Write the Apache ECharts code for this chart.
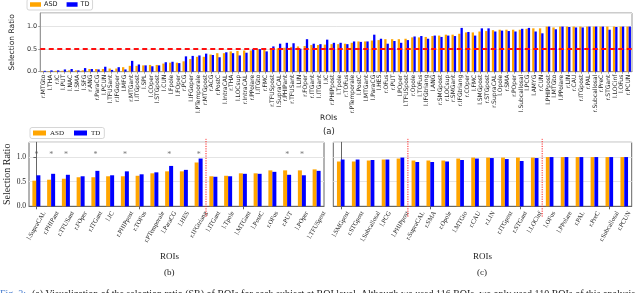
<!DOCTYPE html>
<html><head><meta charset="utf-8">
<script src="https://cdn.jsdelivr.net/npm/echarts@6/dist/echarts.min.js"></script>
<style>html,body{margin:0;padding:0;background:#fff}#c{width:640px;height:293px}</style>
</head><body><div id="c"></div>
<script>
// ---------- DATA ----------
const roisA = ["r.MTGto","l.THA","r.IC","l.PUT","l.NAC","l.SMA","l.SFG","r.ANG","r.ParaCG","l.PCUN",
"l.TFUSant","r.IFGoper","l.MFG","r.MTGant","l.ITGpost","l.SPL","l.COper","l.STGpost","l.CUN","l.Fpole",
"l.FOper","r.PCG","l.IFGoper","l.PTemporale","r.MTGpost","r.ACG","r.PostC","l.IntraCAL","r.THA","l.LOCsup",
"r.IntraCAL","r.PPolare","l.ITGto","r.FMC","r.TFUSpost","l.SupraCAL","r.PHIPant","r.TFUSant","l.LIN","r.FOper",
"r.ITGant","l.ITGant","l.IC","r.PHIPpost","l.Tpole","r.TOFus","r.PTemporale","l.PostC","l.MTGant","l.ParaCG",
"l.HES","r.OFus","r.PUT","l.POper","l.TFUSpost","r.Opole","l.TOFus","l.IFGtriang","l.ANG","r.SMGpost",
"r.LOCsup","r.SMGant","r.IFGtriang","r.COper","l.FMC","l.SMGpost","r.STGpost","r.SupraCAL","l.Opole","r.SMA",
"r.POper","l.Subcallosal","l.PCG","l.AMYG","r.CUN","l.PHIPpost","l.MTGto","l.PPolare","r.LIN","r.CAU",
"r.ITGpost","r.PAL","r.Subcallosal","r.PreC","r.STGant","l.LOCinf","l.OFus","r.PCUN"];
const asdA = [0.01,0.01,0.02,0.02,0.03,0.03,0.03,0.06,0.06,0.06,
0.07,0.07,0.10,0.13,0.13,0.14,0.15,0.15,0.18,0.20,
0.20,0.23,0.28,0.33,0.33,0.38,0.41,0.41,0.45,0.46,
0.47,0.47,0.50,0.51,0.51,0.52,0.53,0.55,0.56,0.57,
0.59,0.59,0.60,0.61,0.61,0.62,0.64,0.67,0.67,0.69,
0.70,0.72,0.72,0.72,0.73,0.76,0.76,0.77,0.79,0.80,
0.82,0.82,0.84,0.87,0.87,0.89,0.90,0.92,0.93,0.93,
0.93,0.93,0.95,0.96,0.96,1.00,0.98,1.00,1.00,1.00,
1.00,1.00,1.00,1.00,1.00,1.00,1.00,1.00];
const tdA = [0.02,0.03,0.03,0.05,0.06,0.03,0.08,0.06,0.05,0.11,
0.04,0.10,0.05,0.24,0.16,0.14,0.12,0.14,0.21,0.22,
0.19,0.34,0.35,0.36,0.40,0.37,0.32,0.43,0.41,0.36,
0.42,0.50,0.50,0.45,0.56,0.62,0.64,0.63,0.51,0.72,
0.62,0.61,0.71,0.64,0.64,0.61,0.67,0.66,0.67,0.82,
0.73,0.62,0.68,0.64,0.70,0.78,0.79,0.73,0.80,0.77,
0.80,0.79,0.97,0.88,0.80,0.96,0.96,0.89,0.91,0.90,
0.89,0.95,0.97,0.89,0.85,1.00,0.94,1.00,0.99,0.98,
0.98,1.00,1.00,1.00,0.93,0.99,1.00,1.00];
const thresholdA = 0.5;

const roisB = ["l.SupraCAL","r.PHIPant","r.TFUSant","r.FOper","r.ITGant","l.IC","r.PHIPpost","r.TOFus","r.PTemporale","l.ParaCG",
"l.HES","r.IFGtriang","l.ITGant","l.Tpole","l.MTGant","l.PostC","r.OFus","r.PUT","l.POper","l.TFUSpost"];
const asdB = [0.52,0.54,0.56,0.59,0.59,0.61,0.61,0.62,0.67,0.71,0.71,0.89,0.61,0.62,0.67,0.67,0.73,0.73,0.73,0.75];
const tdB  = [0.63,0.66,0.64,0.61,0.72,0.63,0.71,0.65,0.69,0.82,0.74,0.97,0.60,0.61,0.66,0.66,0.70,0.64,0.63,0.72];
const sigB = [0,1,2,4,6,9,11,17,18];   // categories marked with *
const sigLevel = 1.05;
const dividersB = [11.5];

const roisC = ["l.SMGpost","r.STGpost","l.Subcallosal","l.PCG","l.PHIPpost","r.SupraCAL","r.SMA","r.Opole","l.MTGto","r.CAU",
"r.LIN","r.ITGpost","r.STGant","l.LOCinf","l.OFus","l.PPolare","r.PAL","r.PreC","r.Subcallosal","r.PCUN"];
const asdC = [0.91,0.91,0.93,0.95,0.97,0.93,0.93,0.93,0.97,0.99,0.99,0.99,0.99,0.99,1.00,1.00,1.00,1.00,1.00,1.00];
const tdC  = [0.95,0.95,0.94,0.95,0.99,0.90,0.90,0.91,0.94,0.97,0.98,0.96,0.92,0.98,1.00,1.00,1.00,1.00,1.00,1.00];
const dividersC = [4.5, 13.5];

const yTicks = {min:0, max:1.3, interval:0.5};
const dividerSpan = [-0.21, 1.37];

// ---------- CHART ----------
const ORANGE = '#FFA500', BLUE = '#0000FF';
const SANS = 'DejaVu Sans', SERIF = 'Liberation Serif';
const chart = echarts.init(document.getElementById('c'), null, {renderer:'canvas'});

const ctx = document.createElement('canvas').getContext('2d');
function textW(t, font){ ctx.font = font; return ctx.measureText(t).width; }

function rotLabelSeries(xi, yi, names){
  const fs = 6.5, font = fs + 'px "' + SERIF + '"', ang = Math.PI/3, pad = 3;
  return {
    type:'custom', xAxisIndex:xi, yAxisIndex:yi, silent:true, clip:false, z:5,
    data: names.map((n,i)=>[i,0]),
    renderItem(params, api){
      const i = api.value(0);
      const p = api.coord([i, 0]);
      const L = textW(names[i], font);
      return {type:'text', x: p[0] + (L/2)*Math.cos(ang), y: p[1] + pad + (fs/2)*Math.cos(ang) + 1,
        rotation: ang,
        style:{text:names[i], font, fill:'#222', align:'right', verticalAlign:'middle'}};
    }
  };
}
function dividerSeries(xi, yi, x){
  return {type:'line', xAxisIndex:xi, yAxisIndex:yi, silent:true, clip:false, symbol:'none', z:6,
    data:[[x, dividerSpan[0]],[x, dividerSpan[1]]],
    lineStyle:{color:'#ff2020', width:1, type:[1.2,1.2]}};
}

const catAxisBase = (gi, data) => ({type:'category', gridIndex:gi, data,
  axisLine:{lineStyle:{color:'#666'}}, axisTick:{show:true, alignWithLabel:true, length:3, lineStyle:{color:'#666'}}});

const option = {
  animation:false,
  backgroundColor:'#fff',
  legend:[
    {data:['ASD','TD'], left:27, top:-1, orient:'horizontal', itemWidth:11, itemHeight:4.5, itemGap:9,
      padding:[2,3,2,3], borderColor:'#ccc', borderWidth:0.8, borderRadius:2, icon:'rect',
      textStyle:{fontFamily:SANS, fontSize:6.5, color:'#222', padding:[0,0,0,-2]}},
    {data:['ASD','TD'], left:30, top:127.5, orient:'horizontal', itemWidth:13, itemHeight:5, itemGap:10,
      padding:[2,4,2,3], borderColor:'#ccc', borderWidth:0.8, borderRadius:2, icon:'rect',
      textStyle:{fontFamily:SERIF, fontSize:7, color:'#222', padding:[0,0,0,-1]}}
  ],
  grid:[
    {left:27, top:13, width:605, height:58.7, show:true, borderColor:'#999', borderWidth:1, backgroundColor:'transparent'},
    {left:29, top:142.3, width:295, height:64, show:true, borderColor:'#666', borderWidth:1, backgroundColor:'transparent'},
    {left:333.3, top:142.3, width:298.4, height:64, show:true, borderColor:'#666', borderWidth:1, backgroundColor:'transparent'}
  ],
  xAxis:[
    Object.assign(catAxisBase(0, roisA), {axisTick:{show:true, alignWithLabel:true, length:2, lineStyle:{color:'#999'}},
      axisLine:{lineStyle:{color:'#999'}},
      axisLabel:{interval:0, rotate:90, fontSize:6, margin:3, fontFamily:SANS, color:'#222'}}),
    Object.assign(catAxisBase(1, roisB), {axisLabel:{show:false}}),
    Object.assign(catAxisBase(2, roisC), {axisLabel:{show:false}}),
    {type:'value', gridIndex:1, min:-0.5, max:roisB.length-0.5, show:false},
    {type:'value', gridIndex:2, min:-0.5, max:roisC.length-0.5, show:false}
  ],
  yAxis:[
    {type:'value', gridIndex:0, min:yTicks.min, max:yTicks.max, interval:yTicks.interval,
      name:'Selection Ratio', nameLocation:'middle', nameGap:17,
      nameTextStyle:{fontFamily:SANS, fontSize:7.5, color:'#222'},
      axisLine:{show:true, lineStyle:{color:'#999'}}, axisTick:{show:true, length:2, lineStyle:{color:'#999'}},
      axisLabel:{fontFamily:SANS, fontSize:6.5, color:'#333', margin:3, showMaxLabel:false,
        formatter:v=>v.toFixed(1)},
      splitLine:{show:true, lineStyle:{color:'#e4e4e4', width:1}}},
    {type:'value', gridIndex:1, min:yTicks.min, max:yTicks.max, interval:yTicks.interval,
      name:'Selection Ratio', nameLocation:'middle', nameGap:16,
      nameTextStyle:{fontFamily:SERIF, fontSize:10, color:'#222'},
      axisLine:{show:true, lineStyle:{color:'#666'}}, axisTick:{show:true, length:3, lineStyle:{color:'#666'}},
      axisLabel:{fontFamily:SERIF, fontSize:7.5, color:'#222', margin:3, showMaxLabel:false,
        formatter:v=>v.toFixed(1)},
      splitLine:{show:true, lineStyle:{color:'#e4e4e4', width:1}}},
    {type:'value', gridIndex:2, min:yTicks.min, max:yTicks.max, interval:yTicks.interval,
      axisLine:{show:true, lineStyle:{color:'#666'}}, axisTick:{show:false},
      axisLabel:{show:false}, splitLine:{show:true, lineStyle:{color:'#e4e4e4', width:1}}}
  ],
  series:[
    {name:'ASD', type:'bar', xAxisIndex:0, yAxisIndex:0, data:asdA, barWidth:2.3, barGap:'0%',
      itemStyle:{color:ORANGE},
      markLine:{silent:true, symbol:'none', label:{show:false},
        lineStyle:{color:'#ff1010', width:2, type:[5,3.5]}, data:[{yAxis:thresholdA}]}},
    {name:'TD', type:'bar', xAxisIndex:0, yAxisIndex:0, data:tdA, barWidth:2.3, barGap:'0%', itemStyle:{color:BLUE}},
    {name:'ASD', type:'bar', xAxisIndex:1, yAxisIndex:1, data:asdB, barWidth:4, barGap:'0%', itemStyle:{color:ORANGE}},
    {name:'TD', type:'bar', xAxisIndex:1, yAxisIndex:1, data:tdB, barWidth:4, barGap:'0%', itemStyle:{color:BLUE}},
    {name:'ASD', type:'bar', xAxisIndex:2, yAxisIndex:2, data:asdC, barWidth:3.8, barGap:'0%', itemStyle:{color:ORANGE}},
    {name:'TD', type:'bar', xAxisIndex:2, yAxisIndex:2, data:tdC, barWidth:3.8, barGap:'0%', itemStyle:{color:BLUE}},
    {type:'scatter', xAxisIndex:3, yAxisIndex:1, silent:true, symbolSize:0.1,
      data: sigB.map(i=>[i, sigLevel]),
      label:{show:true, position:'inside', formatter:'*', fontFamily:SERIF, fontSize:8, color:'#555'}},
    ...dividersB.map(x=>dividerSeries(3,1,x)),
    ...dividersC.map(x=>dividerSeries(4,2,x)),
    rotLabelSeries(1,1,roisB),
    rotLabelSeries(2,2,roisC)
  ],
  graphic:[
    {type:'text', left:320, top:114, style:{text:'ROIs', font:'7.5px "DejaVu Sans"', fill:'#222'}},
    {type:'text', left:323, top:127, style:{text:'(a)', font:'8.5px "DejaVu Sans"', fill:'#222'}},
    {type:'text', left:160, top:252, style:{text:'ROIs', font:'9px "Liberation Serif"', fill:'#222'}},
    {type:'text', left:164, top:268, style:{text:'(b)', font:'9px "Liberation Serif"', fill:'#222'}},
    {type:'text', left:473, top:252, style:{text:'ROIs', font:'9px "Liberation Serif"', fill:'#222'}},
    {type:'text', left:477, top:268, style:{text:'(c)', font:'9px "Liberation Serif"', fill:'#222'}},
    {type:'text', left:0, top:289, style:{text:'Fig. 2:', font:'10px "Liberation Serif"', fill:'#4a7fd0'}},
    {type:'text', left:32, top:289, style:{text:'(a) Visualization of the selection ratio (SR) of ROIs for each subject at ROI level. Although we used 116 ROIs, we only used 110 ROIs of this analysis', font:'10px "Liberation Serif"', fill:'#222'}}
  ]
};
chart.setOption(option);
</script></body></html>
